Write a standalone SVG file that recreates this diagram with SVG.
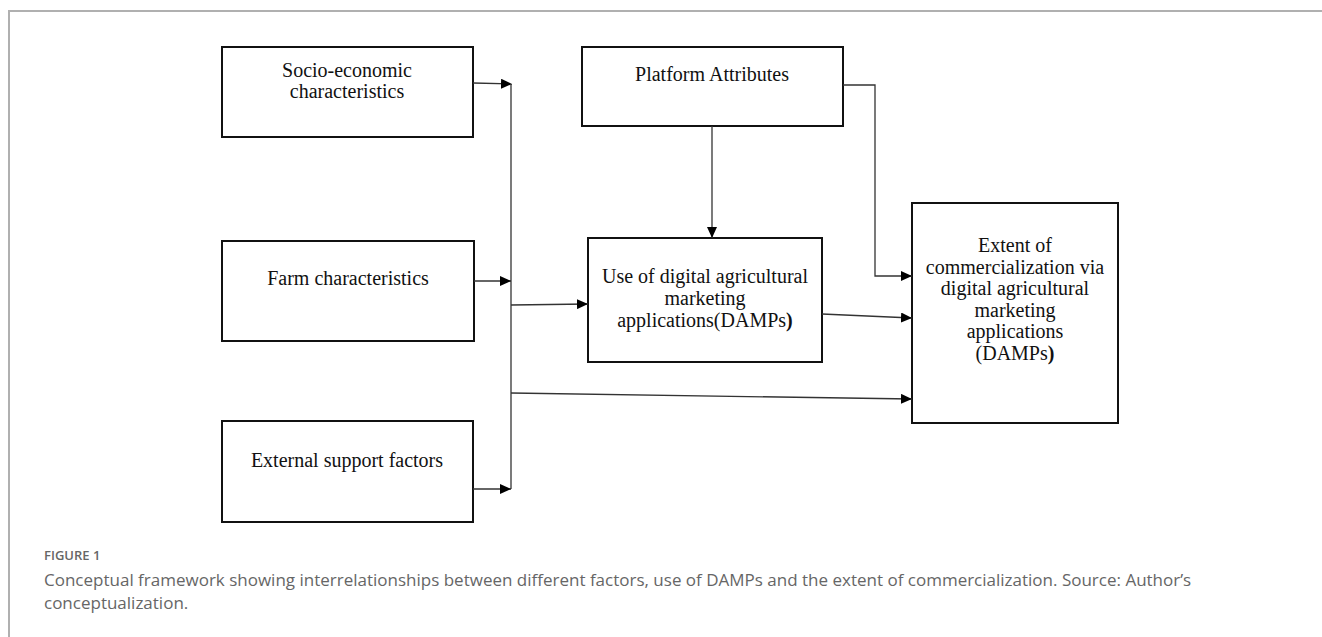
<svg xmlns="http://www.w3.org/2000/svg" width="1322" height="637" viewBox="0 0 1322 637">
<style>
.box{fill:#fff;stroke:#111;stroke-width:2}
.lbl{font-family:"Liberation Serif","Times New Roman",serif;font-size:20px;fill:#111;text-anchor:middle}
.con{fill:none;stroke:#333;stroke-width:1.3}
.cap{font-family:"Open Sans","Noto Sans",sans-serif;fill:#666}
</style>
<defs>
<marker id="ah" markerUnits="userSpaceOnUse" markerWidth="12" markerHeight="10" viewBox="0 0 12 10" refX="11" refY="5" orient="auto">
<path d="M0,0 L11,5 L0,10 Z" fill="#000"/>
</marker>
</defs>
<rect width="1322" height="637" fill="#fff"/>
<path d="M9,637 V11 H1322" fill="none" stroke="#b0b0b0" stroke-width="2"/>

<g id="socio">
<rect class="box" x="222" y="47" width="251" height="90"/>
<text class="lbl" x="347" y="77">Socio-economic</text>
<text class="lbl" x="347" y="98">characteristics</text>
</g>
<g id="farm">
<rect class="box" x="222" y="241" width="252" height="100"/>
<text class="lbl" x="348" y="285">Farm characteristics</text>
</g>
<g id="external">
<rect class="box" x="222" y="421" width="251" height="101"/>
<text class="lbl" x="347" y="467">External support factors</text>
</g>
<g id="platform">
<rect class="box" x="582" y="47" width="261" height="79"/>
<text class="lbl" x="712" y="81">Platform Attributes</text>
</g>
<g id="use">
<rect class="box" x="588" y="238" width="234" height="124"/>
<text class="lbl" x="705" y="283">Use of digital agricultural</text>
<text class="lbl" x="705" y="305">marketing</text>
<text class="lbl" x="705" y="327">applications(DAMPs<tspan font-weight="bold">)</tspan></text>
</g>
<g id="extent">
<rect class="box" x="912" y="203" width="206" height="220"/>
<text class="lbl" x="1015" y="252">Extent of</text>
<text class="lbl" x="1015" y="273.5">commercialization via</text>
<text class="lbl" x="1015" y="295">digital agricultural</text>
<text class="lbl" x="1015" y="316.5">marketing</text>
<text class="lbl" x="1015" y="338">applications</text>
<text class="lbl" x="1015" y="359.5">(DAMPs<tspan font-weight="bold">)</tspan></text>
</g>

<g id="connectors">
<path class="con" d="M473,83 L512,84" marker-end="url(#ah)"/>
<path class="con" d="M511,84 V489"/>
<path class="con" d="M474,281 L511,281" marker-end="url(#ah)"/>
<path class="con" d="M473,489 L511,489" marker-end="url(#ah)"/>
<path class="con" d="M511,305 L588,304" marker-end="url(#ah)"/>
<path class="con" d="M511,393 L912,399" marker-end="url(#ah)"/>
<path class="con" d="M822,314 L912,318" marker-end="url(#ah)"/>
<path class="con" d="M712,126 V238" marker-end="url(#ah)"/>
<path class="con" d="M843,85 H875 V276 H912" marker-end="url(#ah)"/>
</g>

<text class="cap" x="44" y="560" font-size="13" font-weight="600" fill="#5a5a5a">FIGURE 1</text>
<text class="cap" x="44" y="586" font-size="17">Conceptual framework showing interrelationships between different factors, use of DAMPs and the extent of commercialization. Source: Author’s</text>
<text class="cap" x="44" y="609" font-size="17">conceptualization.</text>
</svg>
